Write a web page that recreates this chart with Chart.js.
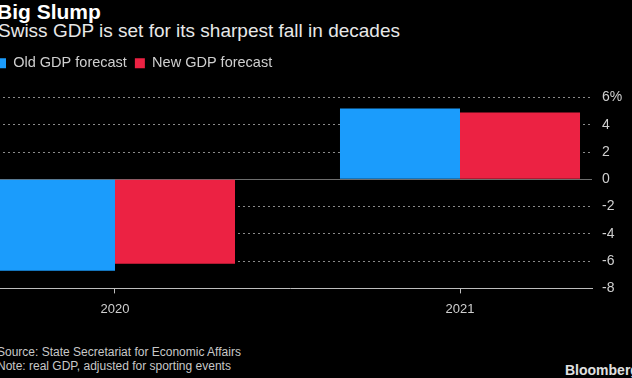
<!DOCTYPE html>
<html>
<head>
<meta charset="utf-8">
<script src="https://cdn.jsdelivr.net/npm/chart.js@4/dist/chart.umd.min.js"></script>
<style>
html,body{margin:0;padding:0;background:#000;width:632px;height:378px;overflow:hidden;position:relative;font-family:"Liberation Sans",Arial,sans-serif;}
.t{position:absolute;white-space:nowrap;line-height:1;}
#title{left:-3px;top:1px;font-size:21px;font-weight:bold;color:#fff;}
#subtitle{left:-2px;top:21px;font-size:19px;color:#e8e8e8;}
#source{left:-3px;top:346px;font-size:12px;color:#c8c8c8;}
#note{left:-3px;top:360px;font-size:12px;color:#c8c8c8;}
#logo{left:565px;top:363px;font-size:14px;font-weight:bold;color:#e0e0e0;}
#chart{position:absolute;left:-12px;top:48px;}
</style>
</head>
<body>
<div class="t" id="title">Big Slump</div>
<div class="t" id="subtitle">Swiss GDP is set for its sharpest fall in decades</div>
<canvas id="chart" width="648" height="279"></canvas>
<div class="t" id="source">Source: State Secretariat for Economic Affairs</div>
<div class="t" id="note">Note: real GDP, adjusted for sporting events</div>
<div class="t" id="logo">Bloomberg</div>
<script>
const categories = ['2020', '2021'];
const oldForecast = [-6.7, 5.2];
const newForecast = [-6.2, 4.9];
const seriesNames = ['Old GDP forecast', 'New GDP forecast'];
const yTickValues = [-8, -6, -4, -2, 0, 2, 4, 6];

const FONT = '"Liberation Sans", Arial, sans-serif';

const legendGap = {
  id: 'legendGap',
  beforeInit(chart) {
    const orig = chart.legend.fit;
    chart.legend.fit = function () {
      orig.call(this);
      this.height += 17;
    };
  }
};

new Chart(document.getElementById('chart'), {
  type: 'bar',
  data: {
    labels: categories,
    datasets: [
      { label: seriesNames[0], data: oldForecast, backgroundColor: '#1b9cfc', borderWidth: 0 },
      { label: seriesNames[1], data: newForecast, backgroundColor: '#ec2243', borderWidth: 0 }
    ]
  },
  plugins: [legendGap],
  options: {
    responsive: false,
    animation: false,
    devicePixelRatio: 1,
    categoryPercentage: 0.6957,
    barPercentage: 1,
    layout: { padding: { top: 0, bottom: 2, left: 0, right: 0 } },
    plugins: {
      legend: {
        position: 'top',
        align: 'start',
        labels: { boxWidth: 10, boxHeight: 10, padding: 8, color: '#cfcfcf', font: { size: 14.5, family: FONT } }
      },
      tooltip: { enabled: false }
    },
    scales: {
      x: {
        type: 'linear',
        min: 2019.6319,
        max: 2021.3826,
        offset: false,
        afterBuildTicks: s => { s.ticks = categories.map(c => ({ value: +c })); },
        ticks: { callback: v => String(v), color: '#cfcfcf', font: { size: 13, family: FONT }, padding: 8, maxRotation: 0, autoSkip: false },
        grid: { offset: false, drawOnChartArea: false, drawTicks: true, tickLength: 5, color: '#bdbdbd' },
        border: { display: true, color: '#bdbdbd', width: 1 }
      },
      y: {
        position: 'right',
        min: -8,
        max: 6,
        afterBuildTicks: s => { s.ticks = yTickValues.map(v => ({ value: v })); },
        afterFit: s => { s.width = 44; },
        ticks: { callback: v => (v === 6 ? '6%' : String(v)), color: '#cfcfcf', font: { size: 14, family: FONT }, padding: 10 },
        grid: { color: ctx => (ctx.tick && ctx.tick.value === 0 ? '#6e6e6e' : '#8a8a8a'), drawTicks: false, lineWidth: 1 },
        border: { display: false, dash: ctx => (ctx.tick && ctx.tick.value === 0 ? [] : [2, 3]) }
      }
    }
  }
});
</script>
</body>
</html>
